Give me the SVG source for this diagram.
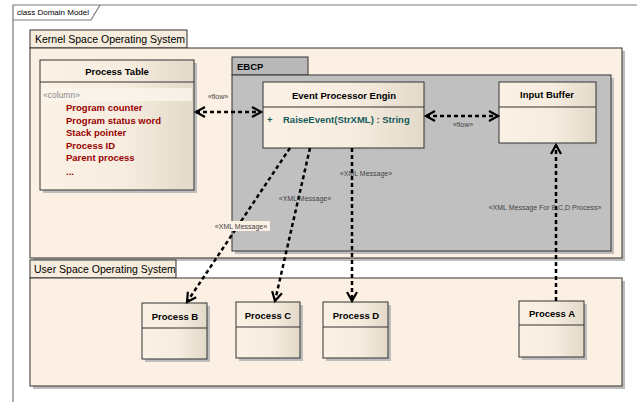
<svg xmlns="http://www.w3.org/2000/svg" width="637" height="402" viewBox="0 0 637 402">
<defs>
<linearGradient id="cg" x1="0" y1="0" x2="1" y2="0">
<stop offset="0" stop-color="#FBF2E5"/>
<stop offset="0.55" stop-color="#F6EDE0"/>
<stop offset="1" stop-color="#E3D9C9"/>
</linearGradient>
<marker id="ah" markerUnits="userSpaceOnUse" markerWidth="14" markerHeight="14" refX="10" refY="6" orient="auto-start-reverse" viewBox="0 0 14 12">
<path d="M1,1 L10,6 L1,11" fill="none" stroke="#000" stroke-width="2.2"/>
</marker>
</defs>
<style>
text{font-family:"Liberation Sans",Arial,sans-serif;}
.frame{fill:none;stroke:#7a7a7a;stroke-width:1.2}
.pkg{fill:#FBF0E3;stroke:#333;stroke-width:1}
.pkgtab{fill:#F6ECDD;stroke:#333;stroke-width:1}
.grey{fill:#C0C0C0;stroke:#333;stroke-width:1}
.greytab{fill:#B9B9B9;stroke:#333;stroke-width:1}
.shadow{fill:#BDBDBD}
.cls{fill:url(#cg);stroke:#333;stroke-width:1}
.sep{stroke:#333;stroke-width:1}
.ptitle{font-size:10.5px;fill:#000}
.ctitle{font-size:9.5px;font-weight:bold;fill:#000;text-anchor:middle}
.attr{font-size:9.5px;font-weight:bold;fill:#990000}
.meth{font-size:9.5px;font-weight:bold;fill:#155A5A}
.stereo{font-size:8.5px;fill:#888}
.lbl{font-size:7px;fill:#444;text-anchor:middle}
.dep{fill:none;stroke:#000;stroke-width:2.5;stroke-dasharray:4 3}
</style>

<!-- frame -->
<g id="frame">
<path class="frame" d="M13,402 V5 H637"/>
<path class="frame" d="M13,20 H91 L100,5"/>
<text x="17" y="15" style="font-size:8px;fill:#000">class Domain Model</text>
</g>

<!-- Kernel package -->
<g id="kernel">
<rect class="shadow" x="33" y="51" width="592" height="210"/>
<rect class="pkgtab" x="30" y="30" width="157" height="18"/>
<rect class="pkg" x="30" y="48" width="592" height="210"/>
<text class="ptitle" x="35" y="43">Kernel Space Operating System</text>
</g>

<!-- EBCP package -->
<g id="ebcp">
<rect class="shadow" x="235" y="78" width="379" height="176"/>
<rect class="greytab" x="232" y="57" width="76" height="18"/>
<rect class="grey" x="232" y="75" width="379" height="176"/>
<text x="237" y="70" style="font-size:9.5px;font-weight:bold;fill:#000">EBCP</text>
</g>

<!-- User space package -->
<g id="userspace">
<rect class="shadow" x="33" y="281" width="592" height="108"/>
<rect class="pkgtab" x="30" y="260" width="146" height="18"/>
<rect class="pkg" x="30" y="278" width="592" height="108"/>
<text class="ptitle" x="34" y="273">User Space Operating System</text>
</g>

<!-- Process Table -->
<g id="processTable">
<rect class="shadow" x="43" y="63" width="154" height="130"/>
<rect class="cls" x="40" y="60" width="154" height="130"/>
<line class="sep" x1="40" y1="82" x2="194" y2="82"/>
<rect x="42" y="88" width="150" height="13" fill="#FBF5EC" opacity="0.8"/>
<text class="ctitle" x="117" y="75">Process Table</text>
<text class="stereo" x="43" y="98">«column»</text>
<text class="attr" x="66" y="111">Program counter</text>
<text class="attr" x="66" y="124">Program status word</text>
<text class="attr" x="66" y="136">Stack pointer</text>
<text class="attr" x="66" y="149">Process ID</text>
<text class="attr" x="66" y="161">Parent process</text>
<text class="attr" x="66" y="175">...</text>
</g>

<!-- Event Processor Engin -->
<g id="epe">
<rect class="shadow" x="266" y="85" width="161" height="66"/>
<rect class="cls" x="263" y="82" width="161" height="66"/>
<line class="sep" x1="263" y1="107" x2="424" y2="107"/>
<text class="ctitle" x="344" y="99">Event Processor Engin</text>
<text class="meth" x="267" y="123">+</text>
<text class="meth" x="283" y="123">RaiseEvent(StrXML) : String</text>
</g>

<!-- Input Buffer -->
<g id="inputBuffer">
<rect class="shadow" x="502" y="85" width="97" height="61"/>
<rect class="cls" x="499" y="82" width="97" height="61"/>
<line class="sep" x1="499" y1="107" x2="596" y2="107"/>
<text class="ctitle" x="547" y="98">Input Buffer</text>
</g>

<!-- Process B -->
<g id="processB">
<rect class="shadow" x="145" y="306" width="65" height="56"/>
<rect class="cls" x="142" y="303" width="65" height="56"/>
<line class="sep" x1="142" y1="328" x2="207" y2="328"/>
<text class="ctitle" x="175" y="320">Process B</text>
</g>

<!-- Process C -->
<g id="processC">
<rect class="shadow" x="239" y="305" width="64" height="56"/>
<rect class="cls" x="236" y="302" width="64" height="56"/>
<line class="sep" x1="236" y1="327" x2="300" y2="327"/>
<text class="ctitle" x="268" y="319">Process C</text>
</g>

<!-- Process D -->
<g id="processD">
<rect class="shadow" x="326" y="305" width="65" height="56"/>
<rect class="cls" x="323" y="302" width="65" height="56"/>
<line class="sep" x1="323" y1="327" x2="388" y2="327"/>
<text class="ctitle" x="356" y="319">Process D</text>
</g>

<!-- Process A -->
<g id="processA">
<rect class="shadow" x="522" y="304" width="65" height="56"/>
<rect class="cls" x="519" y="301" width="65" height="56"/>
<line class="sep" x1="519" y1="325" x2="584" y2="325"/>
<text class="ctitle" x="552" y="317">Process A</text>
</g>

<!-- connectors -->
<g id="connectors">
<line class="dep" x1="196" y1="112" x2="261" y2="112" marker-start="url(#ah)" marker-end="url(#ah)"/>
<text class="lbl" x="218" y="99">«flow»</text>
<line class="dep" x1="426" y1="116" x2="498" y2="116" marker-start="url(#ah)" marker-end="url(#ah)"/>
<text class="lbl" x="463" y="127">«flow»</text>
<line class="dep" x1="290" y1="148" x2="187" y2="302" marker-end="url(#ah)"/>
<rect x="212" y="221" width="58" height="10" fill="#FBF0E3"/>
<text class="lbl" x="241" y="229">«XML Message»</text>
<line class="dep" x1="310" y1="148" x2="275" y2="301" marker-end="url(#ah)"/>
<text class="lbl" x="305" y="201">«XML Message»</text>
<line class="dep" x1="352" y1="148" x2="352" y2="301" marker-end="url(#ah)"/>
<text class="lbl" x="366" y="176">«XML Message»</text>
<line class="dep" x1="556" y1="301" x2="556" y2="145" marker-end="url(#ah)"/>
<text class="lbl" x="545" y="210">«XML Message For B,C,D Process»</text>
</g>
</svg>
